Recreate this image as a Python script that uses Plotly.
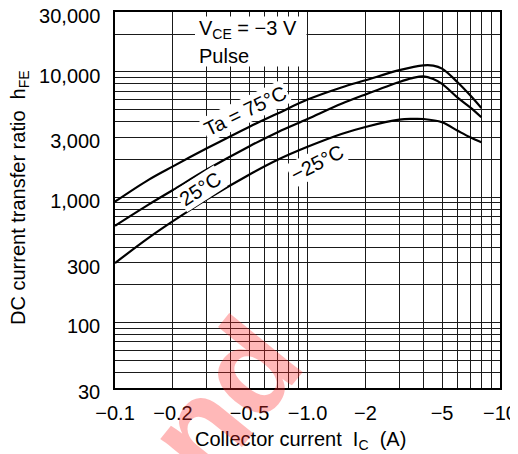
import plotly.graph_objects as go

# ---- data ----
ic_75 = [0.1, 0.15, 0.2, 0.3, 0.5, 0.7, 1.0, 1.5, 2.0, 3.0, 4.0, 4.5, 5.0, 6.0, 7.0, 8.0]
hfe_75 = [920, 1380, 1760, 2450, 3650, 4650, 6000, 7500, 8550, 10300, 11250, 11200, 10600, 8300, 6500, 5150]

ic_25 = [0.1, 0.15, 0.2, 0.3, 0.5, 0.7, 1.0, 1.5, 2.0, 3.0, 3.5, 4.0, 4.5, 5.0, 6.0, 7.0, 8.0]
hfe_25 = [590, 875, 1140, 1660, 2550, 3300, 4200, 5550, 6600, 8300, 8900, 9200, 8750, 8000, 6250, 5200, 4340]

ic_m25 = [0.1, 0.15, 0.2, 0.3, 0.5, 0.7, 1.0, 1.5, 2.0, 3.0, 3.5, 4.0, 5.0, 6.0, 7.0, 8.0]
hfe_m25 = [298, 475, 643, 960, 1515, 1985, 2520, 3190, 3630, 4150, 4210, 4200, 3960, 3400, 3000, 2740]

x_tickvals = [0.1, 0.2, 0.5, 1, 2, 5, 10]
x_ticktext = ["\u22120.1", "\u22120.2", "\u22120.5", "\u22121.0", "\u22122", "\u22125", "\u221210"]
y_tickvals = [30, 100, 300, 1000, 3000, 10000, 30000]
y_ticktext = ["30", "100", "300", "1,000", "3,000", "10,000", "30,000"]

x_minor = [m * d for d in (0.1, 1) for m in range(2, 10)]
y_minor = [m * d for d in (10, 100, 1000, 10000) for m in range(2, 10) if 30 <= m * d <= 30000]

FONT = "Liberation Sans, Arial, Helvetica, sans-serif"
GRID = "#1a1a1a"
FS = 20

fig = go.Figure()
for xs, ys in ((ic_75, hfe_75), (ic_25, hfe_25), (ic_m25, hfe_m25)):
    fig.add_trace(go.Scatter(x=xs, y=ys, mode="lines",
                             line=dict(color="black", width=2.2, shape="spline", smoothing=1.0),
                             showlegend=False, hoverinfo="skip"))

# the page body adds an 8 px offset; the figure is sized so that the plot
# area lands at x 115..500, y 12..388 of the 518x454 window
OFF = 8
W, H = 518 - OFF, 454 - OFF
PX0, PX1, PY0, PY1 = 115, 500, 12, 388
L, R, T, B = PX0 - OFF, W - (PX1 - OFF), PY0 - OFF, H - (PY1 - OFF)


def px(x):
    return (x - PX0) / (PX1 - PX0)


def py(y):
    return (PY1 - y) / (PY1 - PY0)


fig.update_layout(
    template="none",
    width=W, height=H,
    margin=dict(l=L, r=R, t=T, b=B, autoexpand=False),
    paper_bgcolor="white", plot_bgcolor="white",
    font=dict(family=FONT, size=FS, color="black"),
    showlegend=False,
    xaxis=dict(type="log", range=[-1, 1], tickmode="array", tickvals=x_tickvals, ticktext=x_ticktext,
               automargin=False, ticklabeloverflow="allow",
               showgrid=True, gridcolor=GRID, gridwidth=1,
               minor=dict(tickmode="array", tickvals=x_minor, showgrid=True, gridcolor=GRID, gridwidth=1),
               showline=True, mirror=True, linecolor="black", linewidth=1.5,
               ticks="", zeroline=False, ticklabelstandoff=6,
               tickfont=dict(family=FONT, size=FS, color="black")),
    yaxis=dict(type="log", range=[1.4771, 4.4771], tickmode="array", tickvals=y_tickvals, ticktext=y_ticktext,
               automargin=False, ticklabeloverflow="allow",
               showgrid=True, gridcolor=GRID, gridwidth=1,
               minor=dict(tickmode="array", tickvals=y_minor, showgrid=True, gridcolor=GRID, gridwidth=1),
               showline=True, mirror=True, linecolor="black", linewidth=1.5,
               ticks="", zeroline=False, ticklabelstandoff=9, ticklabelshift=4,
               tickfont=dict(family=FONT, size=FS, color="black")),
)

# white box behind the condition text
fig.add_shape(type="rect", xref="paper", yref="paper",
              x0=px(195), x1=px(306.5), y0=py(66.5), y1=py(16.5),
              fillcolor="white", line=dict(width=0), layer="above")

ann = []
ann.append(dict(text="V<sub>CE</sub> = \u22123 V", x=px(197), y=py(30), xanchor="left", yanchor="middle"))
ann.append(dict(text="Pulse", x=px(197), y=py(56), xanchor="left", yanchor="middle"))
ann.append(dict(text="Ta = 75\u00b0C", x=px(245), y=py(111), textangle=-26, bgcolor="white"))
ann.append(dict(text="25\u00b0C", x=px(200), y=py(189), textangle=-33, bgcolor="white"))
ann.append(dict(text="\u221225\u00b0C", x=px(317), y=py(163), textangle=-27, bgcolor="white"))
ann.append(dict(text="DC current transfer ratio\u00a0\u00a0h<sub>FE</sub>", x=px(19), y=py(198), textangle=-90))
ann.append(dict(text="Collector current\u00a0\u00a0I<sub>C</sub>\u00a0\u00a0(A)", x=px(300), y=py(440)))
for a in ann:
    a.setdefault("xanchor", "center")
    a.setdefault("yanchor", "middle")
    fig.add_annotation(xref="paper", yref="paper", showarrow=False,
                       font=dict(family=FONT, size=FS, color="black"), **a)

# faint watermark fragment seen at the bottom of the reference
fig.add_annotation(xref="paper", yref="paper", showarrow=False, text="nd",
                   x=px(223), y=py(399), textangle=-51, xanchor="center", yanchor="middle",
                   font=dict(family=FONT, size=130, color="rgba(255,40,40,0.33)", weight="bold"))

fig.write_html("out.html")
